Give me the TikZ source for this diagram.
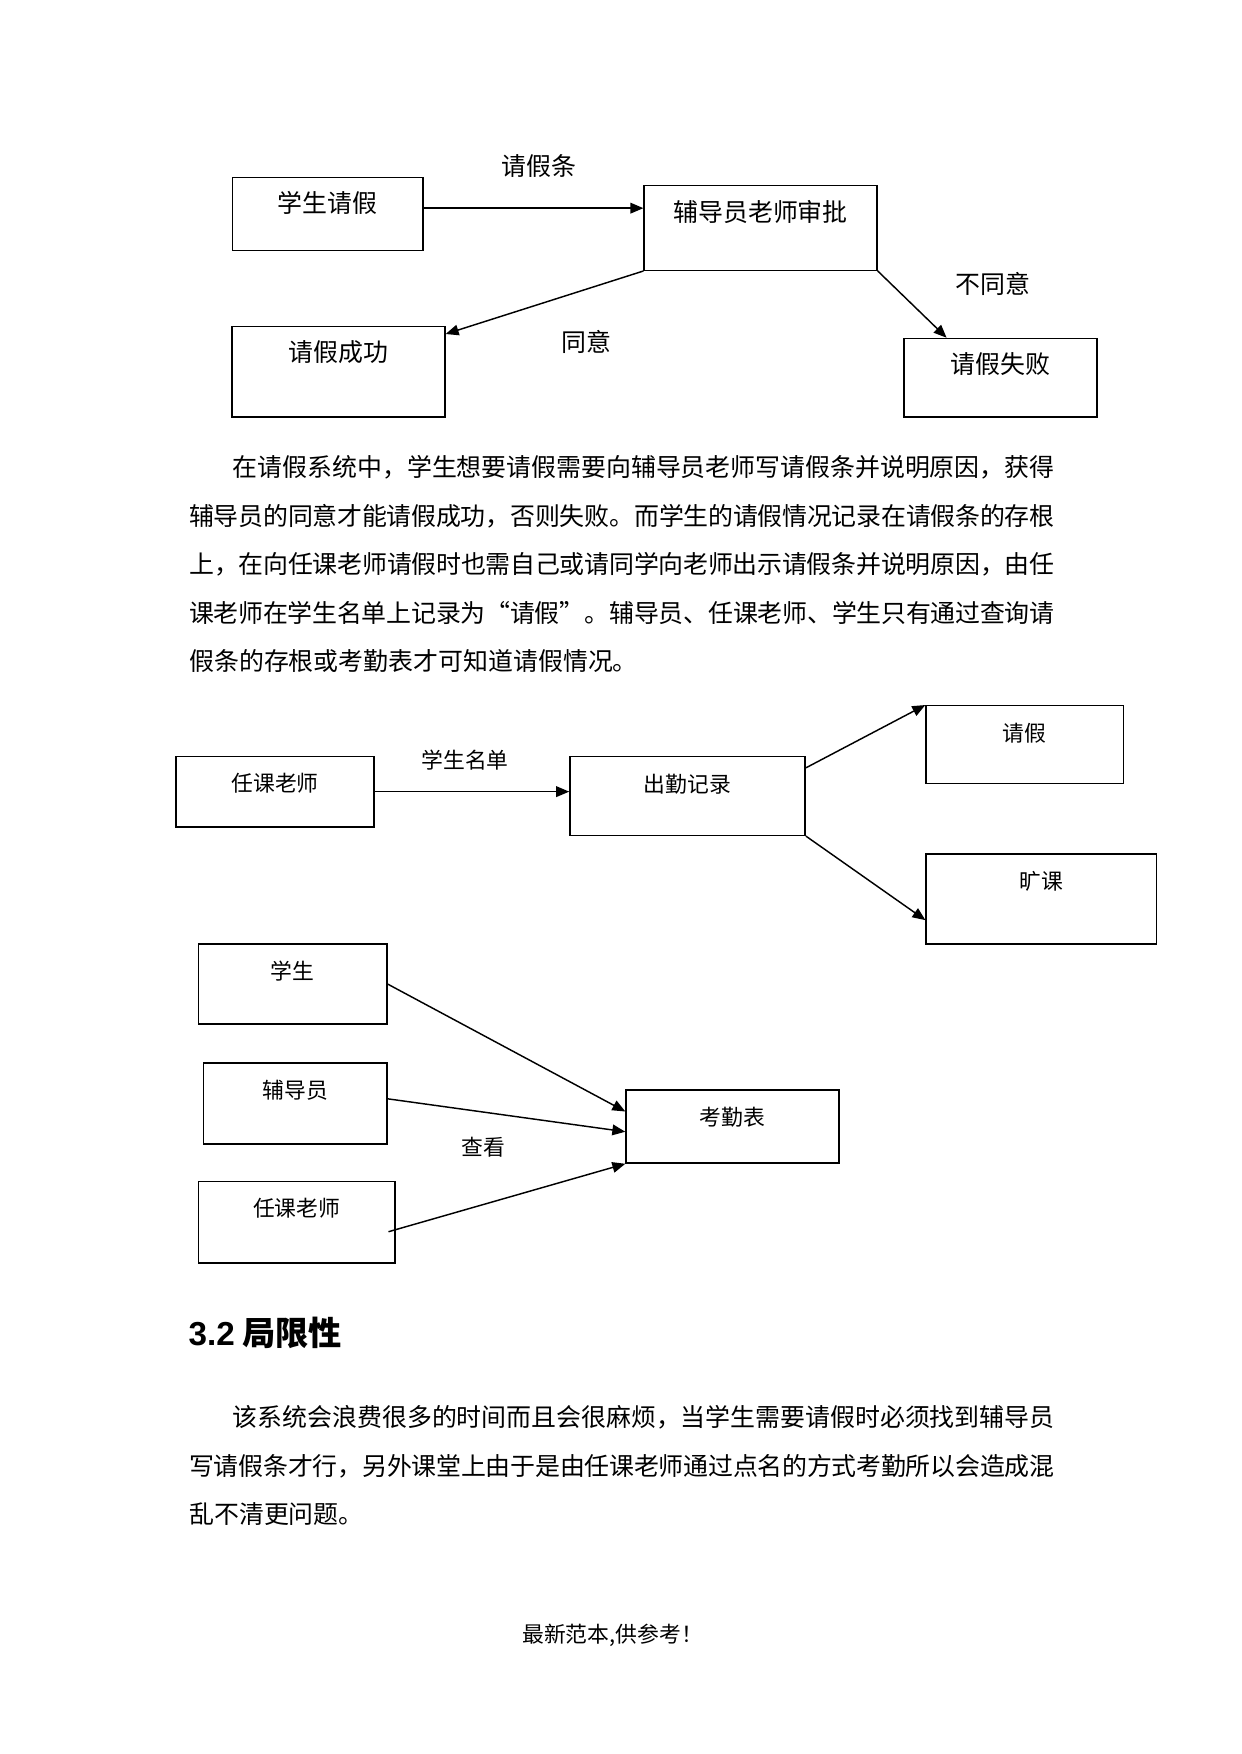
\documentclass[tikz,border=0pt]{standalone}
\usepackage{fontspec}
\setmainfont{Noto Sans CJK SC}
\newfontfamily\arialfont{Liberation Sans}
\usetikzlibrary{positioning,arrows.meta}
\XeTeXlinebreaklocale "zh"
\XeTeXlinebreakskip=0pt plus 1pt minus 0.3pt

\begin{document}
\begin{tikzpicture}[
  font=\fontsize{12pt}{14pt}\selectfont,
  box/.style={rectangle, draw=black, line width=0.7pt, inner sep=0pt,
              text height=6mm, anchor=north},
  small/.style={font=\fontsize{10.5pt}{12pt}\selectfont},
  arr/.style={-{Triangle[length=2.2mm,width=1.8mm]}, line width=0.7pt},
  para/.style={anchor=base west, inner sep=0pt, text width=14.64cm, align=justify,
               font=\fontsize{12pt}{23.4pt}\selectfont}
]
\path[fill=white, use as bounding box] (0,0) rectangle (21,-29.68);

% leave request
\node[box, minimum width=3.22cm, text depth=0.64cm] (sq) at (5.545,-2.990) {学生请假};
\node[box, minimum width=3.94cm, text depth=0.83cm] (fdy) at (12.870,-3.131) {辅导员老师审批};
\node[box, minimum width=3.60cm, text depth=0.93cm] (cg) at (5.728,-5.512) {请假成功};
\node[box, minimum width=3.26cm, text depth=0.73cm] (sb) at (16.930,-5.715) {请假失败};

\draw[arr] ([yshift=1mm]sq.east) -- ([yshift=1mm]sq.east -| fdy.west);
\draw[arr] (fdy.south west) -- ([yshift=-1.4mm]cg.north east);
\draw[arr] (fdy.south east) -- ([xshift=7.3mm]sb.north west);

\node (l1) at (9.121,-2.809) {请假条};
\node (l2) at (9.916,-5.787) {同意};
\node (l3) at (16.804,-4.806) {不同意};

% text
\node[para] (p1) at (3.195,-8.063) {\hspace*{1.75em}在请假系统中，学生想要请假需要向辅导员老师写请假条并说明原因，获得\linebreak
辅导员的同意才能请假成功，否则失败。而学生的请假情况记录在请假条的存根\linebreak
上，在向任课老师请假时也需自己或请同学向老师出示请假条并说明原因，由任\linebreak
课老师在学生名单上记录为“请假”。辅导员、任课老师、学生只有通过查询请\linebreak
假条的存根或考勤表才可知道请假情况。};

% attendance record
\node[box, small, minimum width=3.35cm, text depth=0.59cm] (rk) at (4.654,-12.788) {任课老师};
\node[box, small, minimum width=3.98cm, text depth=0.73cm] (cq) at (11.634,-12.793) {出勤记录};
\node[box, small, minimum width=3.34cm, text depth=0.72cm] (qj) at (17.340,-11.930) {请假};
\node[box, small, minimum width=3.90cm, text depth=0.92cm] (kk) at (17.622,-14.440) {旷课};

\draw[arr] (rk.east) -- (rk.east -| cq.west);
\draw[arr] ([yshift=-2mm]cq.north east) -- (qj.north west);
\draw[arr] (cq.south east) -- ([yshift=-11.3mm]kk.north west);

\node[small] (l4) at (7.869,-12.861) {学生名单};

% lookup
\node[box, small, minimum width=3.19cm, text depth=0.75cm] (xs) at (4.950,-15.963) {学生};
\node[box, small, minimum width=3.10cm, text depth=0.77cm] (fd) at (4.998,-17.976) {辅导员};
\node[box, small, minimum width=3.33cm, text depth=0.78cm] (rk2) at (5.021,-19.980) {任课老师};
\node[box, small, minimum width=3.60cm, text depth=0.64cm] (kqb) at (12.394,-18.428) {考勤表};

\draw[arr] (xs.east) -- ([yshift=-3.8mm]kqb.north west);
\draw[arr] ([yshift=0.8mm]fd.east) -- ([yshift=-0.9mm]kqb.west);
\draw[arr] ([xshift=-1.25mm,yshift=-1.6mm]rk2.east) -- (kqb.south west);

\node[small] (l5) at (8.173,-19.405) {查看};

% section
\node[anchor=base west, inner sep=0pt, font=\fontsize{16pt}{18pt}\selectfont\bfseries]
  (h32) at (3.186,-22.76) {{\arialfont 3.2} 局限性};

\node[para] (p2) at (3.195,-24.14) {\hspace*{1.75em}该系统会浪费很多的时间而且会很麻烦，当学生需要请假时必须找到辅导员\linebreak
写请假条才行，另外课堂上由于是由任课老师通过点名的方式考勤所以会造成混\linebreak
乱不清更问题。};

\node[small] (ft) at (10.365,-27.668) {最新范本,供参考！};
\end{tikzpicture}
\end{document}
